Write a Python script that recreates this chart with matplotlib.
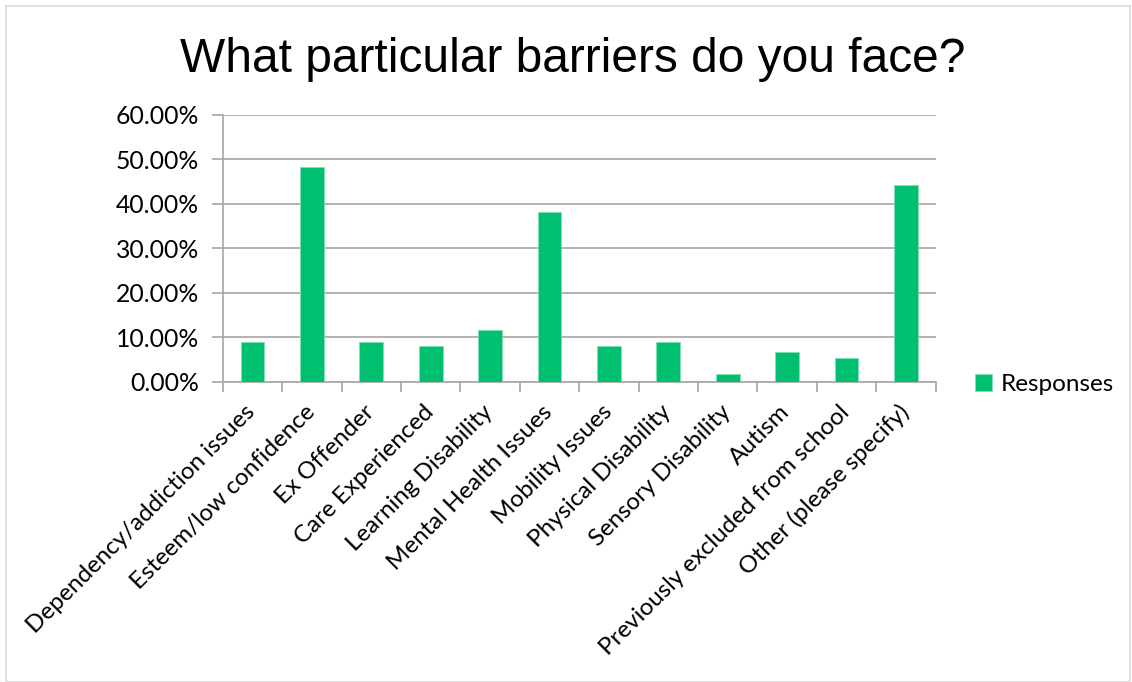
import matplotlib
matplotlib.use('Agg')
from matplotlib import pyplot as plt
from matplotlib.ticker import PercentFormatter, FixedLocator
from matplotlib.patches import Rectangle
from matplotlib.transforms import ScaledTranslation

categories = ['Dependency/addiction issues', 'Esteem/low confidence', 'Ex Offender',
              'Care Experienced', 'Learning Disability', 'Mental Health Issues',
              'Mobility Issues', 'Physical Disability', 'Sensory Disability', 'Autism',
              'Previously excluded from school', 'Other (please specify)']
responses = [9.0, 48.2, 9.0, 8.1, 11.7, 38.2, 8.1, 9.0, 1.7, 6.7, 5.3, 44.1]
series_name = 'Responses'

green = '#00BF6F'
grid = '#A6A6A6'
label_font = ['Lato', 'DejaVu Sans']

fig = plt.figure(figsize=(11.32, 6.82), dpi=100)
ax = fig.add_axes([222.7 / 1132, 1 - 381.7 / 682, (935.7 - 222.7) / 1132, (381.7 - 114.7) / 682])

x = list(range(len(categories)))
ax.bar(x, responses, width=0.4, color=green, edgecolor='#7FE0B5', linewidth=0.6,
       label=series_name, zorder=3)

ax.set_xlim(-0.5, len(categories) - 0.5)
ax.set_ylim(0, 60)
ax.yaxis.set_major_locator(FixedLocator([0, 10, 20, 30, 40, 50, 60]))
ax.yaxis.set_major_formatter(PercentFormatter(decimals=2))
ax.grid(axis='y', color=grid, linewidth=1.2, zorder=0)
ax.set_axisbelow(True)

for s in ['top', 'right']:
    ax.spines[s].set_visible(False)
ax.spines['left'].set_color(grid)
ax.spines['bottom'].set_color(grid)
ax.spines['left'].set_linewidth(1.2)
ax.spines['bottom'].set_linewidth(1.2)

ax.tick_params(axis='y', length=8, color=grid, width=1.2, labelsize=17.8, pad=9)
for t in ax.get_yticklabels():
    t.set_family(label_font)

# ticks between categories, labels centred on bars
ax.set_xticks([i - 0.5 for i in range(len(categories) + 1)])
ax.set_xticklabels([])
ax.tick_params(axis='x', which='major', length=7, color=grid, width=1.2)
ax.set_xticks(x, minor=True)
ax.set_xticklabels(categories, minor=True, rotation=45, ha='right',
                   rotation_mode='anchor', fontsize=17.4, family=label_font)
ax.tick_params(axis='x', which='minor', length=0, pad=14)
shift = ScaledTranslation(-8 / 100, 0, fig.dpi_scale_trans)
for t in ax.get_xticklabels(minor=True):
    t.set_transform(t.get_transform() + shift)

fig.text(0.5 + 7 / 1132, 1 - 71.7 / 682, 'What particular barriers do you face?', ha='center',
         va='baseline', fontsize=34.5, family=['Liberation Sans', 'DejaVu Sans'])

leg = ax.legend(loc='center left', bbox_to_anchor=(1.025, -0.012), frameon=False,
                prop={'family': label_font, 'size': 17.5},
                handlelength=0.7, handleheight=0.7, handletextpad=0.35)

fig.patches.append(Rectangle((6 / 1132, 0), 1 - 8 / 1132, 1 - 6 / 682,
                             transform=fig.transFigure, fill=False,
                             edgecolor='#D9D9D9', linewidth=1.2))

fig.savefig('out.png', dpi=100)
